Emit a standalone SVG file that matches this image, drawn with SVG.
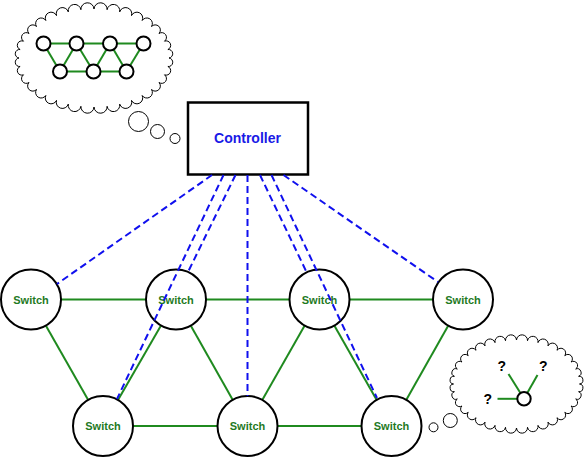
<svg xmlns="http://www.w3.org/2000/svg" width="585" height="457" viewBox="0 0 585 457">
<style>
.bg{fill:#ffffff}
.link{stroke:#1f8a1f;stroke-width:2;fill:none}
.ctl{stroke:#1010ee;stroke-width:2;stroke-dasharray:7 4;fill:none}
.node{fill:#ffffff;stroke:#000000;stroke-width:2}
.mini{fill:#ffffff;stroke:#000000;stroke-width:2}
.cloud{fill:#ffffff;stroke:#000000;stroke-width:1}
.lbl{font-family:"Liberation Sans",Arial,sans-serif;font-weight:bold;font-size:11px;fill:#1f7a1f;text-anchor:middle}
.ctext{font-family:"Liberation Sans",Arial,sans-serif;font-weight:bold;font-size:14px;fill:#1a1ae6;text-anchor:middle}
.q{font-family:"Liberation Sans",Arial,sans-serif;font-weight:bold;font-size:14px;fill:#000000;text-anchor:middle}
</style>
<rect class="bg" x="0" y="0" width="585" height="457"/>

<g id="thought-controller">
<path class="cloud" d="M169,58 A1,1 0 0 1 167.9,66.5 A1,1 0 0 1 164.5,74.8 A1,1 0 0 1 159,82.5 A1,1 0 0 1 151.5,89.5 A1,1 0 0 1 142.2,95.5 A1,1 0 0 1 131.5,100.4 A1,1 0 0 1 119.7,104.1 A1,1 0 0 1 107.1,106.3 A1,1 0 0 1 94,107 A1,1 0 0 1 80.9,106.3 A1,1 0 0 1 68.3,104.1 A1,1 0 0 1 56.5,100.4 A1,1 0 0 1 45.8,95.5 A1,1 0 0 1 36.5,89.5 A1,1 0 0 1 29,82.5 A1,1 0 0 1 23.5,74.8 A1,1 0 0 1 20.1,66.5 A1,1 0 0 1 19,58 A1,1 0 0 1 20.1,49.5 A1,1 0 0 1 23.5,41.2 A1,1 0 0 1 29,33.5 A1,1 0 0 1 36.5,26.5 A1,1 0 0 1 45.8,20.5 A1,1 0 0 1 56.5,15.6 A1,1 0 0 1 68.3,11.9 A1,1 0 0 1 80.9,9.7 A1,1 0 0 1 94,9 A1,1 0 0 1 107.1,9.7 A1,1 0 0 1 119.7,11.9 A1,1 0 0 1 131.5,15.6 A1,1 0 0 1 142.2,20.5 A1,1 0 0 1 151.5,26.5 A1,1 0 0 1 159,33.5 A1,1 0 0 1 164.5,41.2 A1,1 0 0 1 167.9,49.5 A1,1 0 0 1 169,58 Z"/>
<circle class="cloud" cx="138.5" cy="121.5" r="10"/>
<circle class="cloud" cx="157.5" cy="131.5" r="7"/>
<circle class="cloud" cx="175" cy="138.5" r="5"/>
<g class="link">
<line x1="43.5" y1="43.5" x2="143.5" y2="43.5"/>
<line x1="60" y1="71.5" x2="126.5" y2="71.5"/>
<line x1="43.5" y1="43.5" x2="60" y2="71.5"/>
<line x1="76.5" y1="43.5" x2="60" y2="71.5"/>
<line x1="76.5" y1="43.5" x2="93.5" y2="71.5"/>
<line x1="110" y1="43.5" x2="93.5" y2="71.5"/>
<line x1="110" y1="43.5" x2="126.5" y2="71.5"/>
<line x1="143.5" y1="43.5" x2="126.5" y2="71.5"/>
</g>
<circle class="mini" cx="43.5" cy="43.5" r="7"/>
<circle class="mini" cx="76.5" cy="43.5" r="7"/>
<circle class="mini" cx="110" cy="43.5" r="7"/>
<circle class="mini" cx="143.5" cy="43.5" r="7"/>
<circle class="mini" cx="60" cy="71.5" r="7"/>
<circle class="mini" cx="93.5" cy="71.5" r="7"/>
<circle class="mini" cx="126.5" cy="71.5" r="7"/>
</g>

<g id="thought-switch">
<path class="cloud" d="M579.5,384 A1,1 0 0 1 578.6,391.7 A1,1 0 0 1 575.7,399 A1,1 0 0 1 571.1,406 A1,1 0 0 1 564.8,412.3 A1,1 0 0 1 557,417.7 A1,1 0 0 1 548,422.1 A1,1 0 0 1 538,425.4 A1,1 0 0 1 527.5,427.3 A1,1 0 0 1 516.5,428 A1,1 0 0 1 505.5,427.3 A1,1 0 0 1 495,425.4 A1,1 0 0 1 485,422.1 A1,1 0 0 1 476,417.7 A1,1 0 0 1 468.2,412.3 A1,1 0 0 1 461.9,406 A1,1 0 0 1 457.3,399 A1,1 0 0 1 454.4,391.7 A1,1 0 0 1 453.5,384 A1,1 0 0 1 454.4,376.3 A1,1 0 0 1 457.3,369 A1,1 0 0 1 461.9,362 A1,1 0 0 1 468.2,355.7 A1,1 0 0 1 476,350.3 A1,1 0 0 1 485,345.9 A1,1 0 0 1 495,342.6 A1,1 0 0 1 505.5,340.7 A1,1 0 0 1 516.5,340 A1,1 0 0 1 527.5,340.7 A1,1 0 0 1 538,342.6 A1,1 0 0 1 548,345.9 A1,1 0 0 1 557,350.3 A1,1 0 0 1 564.8,355.7 A1,1 0 0 1 571.1,362 A1,1 0 0 1 575.7,369 A1,1 0 0 1 578.6,376.3 A1,1 0 0 1 579.5,384 Z"/>
<circle class="cloud" cx="450.3" cy="420.5" r="7"/>
<circle class="cloud" cx="433.5" cy="427.3" r="4.5"/>
<g class="link">
<line x1="497.5" y1="398.8" x2="524" y2="398.8"/>
<line x1="508.5" y1="374" x2="524" y2="398.8"/>
<line x1="537.5" y1="375" x2="524" y2="398.8"/>
</g>
<circle class="mini" cx="524" cy="398.8" r="6.7"/>
<text class="q" x="501.7" y="371">?</text>
<text class="q" x="543.3" y="371">?</text>
<text class="q" x="487.7" y="403.5">?</text>
</g>

<g id="links">
<line class="link" x1="31" y1="299.5" x2="463" y2="299.5"/>
<line class="link" x1="103" y1="426" x2="391.5" y2="426"/>
<line class="link" x1="31" y1="299.5" x2="103" y2="426"/>
<line class="link" x1="176" y1="299.5" x2="103" y2="426"/>
<line class="link" x1="176" y1="299.5" x2="247.5" y2="426"/>
<line class="link" x1="319.5" y1="299.5" x2="247.5" y2="426"/>
<line class="link" x1="319.5" y1="299.5" x2="391.5" y2="426"/>
<line class="link" x1="463" y1="299.5" x2="391.5" y2="426"/>
</g>

<g id="controller">
<rect x="188" y="102.5" width="120" height="72" fill="#ffffff" stroke="#000000" stroke-width="2.5"/>
<text class="ctext" x="247.5" y="143">Controller</text>
</g>

<g id="switch-t1"><circle class="node" cx="31" cy="299.5" r="30"/><text class="lbl" x="31" y="303.5">Switch</text></g>
<g id="switch-t2"><circle class="node" cx="176" cy="299.5" r="30"/><text class="lbl" x="176" y="303.5">Switch</text></g>
<g id="switch-t3"><circle class="node" cx="319.5" cy="299.5" r="30"/><text class="lbl" x="319.5" y="303.5">Switch</text></g>
<g id="switch-t4"><circle class="node" cx="463" cy="299.5" r="30"/><text class="lbl" x="463" y="303.5">Switch</text></g>
<g id="switch-b1"><circle class="node" cx="103" cy="426" r="30"/><text class="lbl" x="103" y="430">Switch</text></g>
<g id="switch-b2"><circle class="node" cx="247.5" cy="426" r="30"/><text class="lbl" x="247.5" y="430">Switch</text></g>
<g id="switch-b3"><circle class="node" cx="391.5" cy="426" r="30"/><text class="lbl" x="391.5" y="430">Switch</text></g>

<g id="control-links">
<line class="ctl" x1="212" y1="175" x2="57" y2="284"/>
<line class="ctl" x1="223.5" y1="175" x2="117" y2="399"/>
<line class="ctl" x1="235.5" y1="175" x2="188" y2="272"/>
<line class="ctl" x1="247.5" y1="175" x2="247.5" y2="396"/>
<line class="ctl" x1="260" y1="175" x2="306.5" y2="272"/>
<line class="ctl" x1="271.5" y1="175" x2="377" y2="398"/>
<line class="ctl" x1="283.5" y1="175" x2="438" y2="282"/>
</g>
</svg>
